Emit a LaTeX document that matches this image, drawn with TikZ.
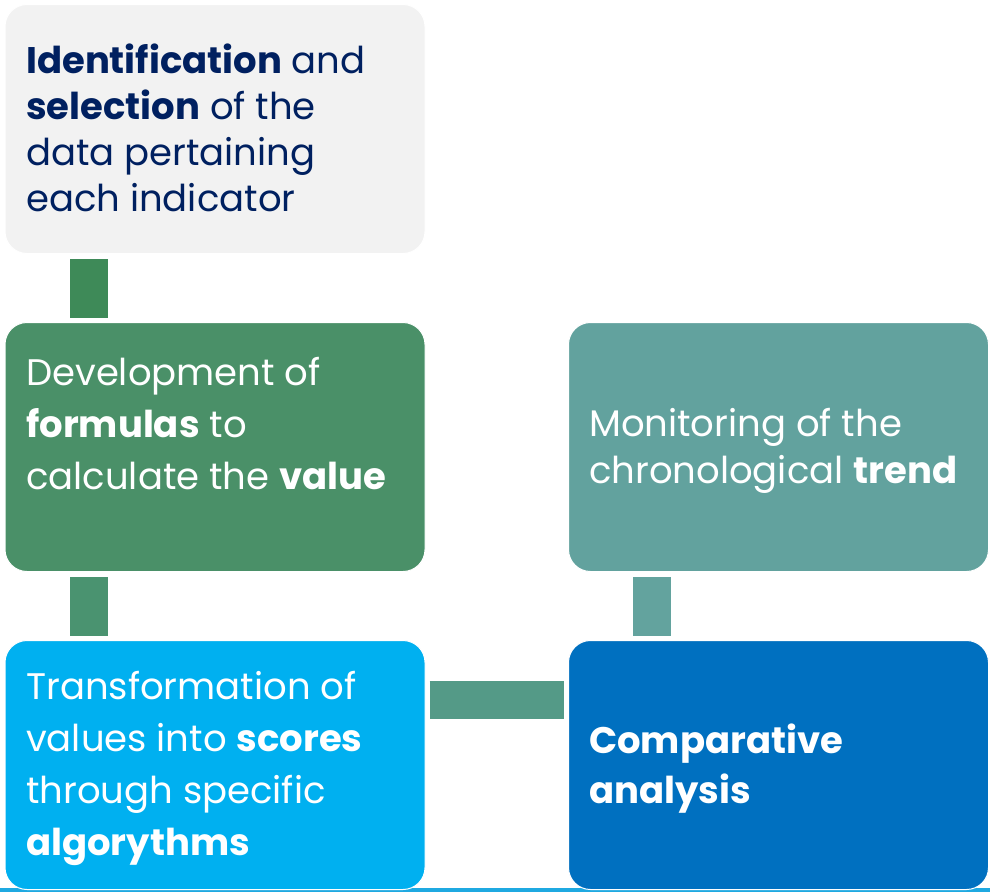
\documentclass[tikz,border=0pt]{standalone}
\usepackage{fontspec}
\setmainfont{Poppins}

\definecolor{navy}{HTML}{002060}
\definecolor{paper}{HTML}{F2F2F2}
\definecolor{leaf}{HTML}{4A9068}
\definecolor{sea}{HTML}{62A29E}
\definecolor{sky}{HTML}{00B0F0}
\definecolor{ocean}{HTML}{0070C0}
\definecolor{stripe}{HTML}{1FA9E1}

\begin{document}
\begin{tikzpicture}[x=1pt,y=-1pt,
  box/.style={rounded corners=22pt, draw=white, line width=1pt,
    minimum width=420pt, minimum height=249pt, inner sep=0pt},
  txt/.style={anchor=west, align=left, inner sep=0pt, text=white,
    font=\fontsize{37}{52}\selectfont},
  link/.style={line width=38pt}]
\useasboundingbox (0,0) rectangle (990,892);
\fill[stripe] (0,888) rectangle (990,892);

% the five steps
\node[box, fill=paper] (idn) at (215,129) {};
\node[box, fill=leaf]  (dev) at (215,447) {};
\node[box, fill=sky]   (sco) at (215,765) {};
\node[box, fill=ocean] (cmp) at (778.5,765) {};
\node[box, fill=sea]   (mon) at (778.5,447) {};

\node[txt, text=navy, font=\fontsize{37}{46}\selectfont] (idnt) at (26,128)
  {\textbf{Identification} and\\\textbf{selection} of the\\data pertaining\\each indicator};
\node[txt] (devt) at (26,424)
  {Development of\\\textbf{formulas} to\\calculate the \textbf{value}};
\node[txt] (scot) at (26,768)
  {Transformation of\\values into \textbf{scores}\\through specific\\\textbf{algorythms}};
\node[txt, font=\bfseries\fontsize{37}{50}\selectfont] (cmpt) at (589,769)
  {Comparative\\analysis};
\node[txt, font=\fontsize{37}{47}\selectfont] (mont) at (589,451)
  {Monitoring of the\\chronological \textbf{trend}};

% joints between the steps
\draw[link, color={rgb,255:red,62;green,138;blue,88}, shorten <=5pt, shorten >=4pt]
  ([xshift=84pt]idn.south west) -- ([xshift=84pt]dev.north west);
\draw[link, color={rgb,255:red,74;green,147;blue,112}, shorten <=5pt, shorten >=4pt]
  ([xshift=84pt]dev.south west) -- ([xshift=84pt]sco.north west);
\draw[link, color={rgb,255:red,84;green,154;blue,135}, shorten <=4pt, shorten >=4pt]
  ([yshift=-60pt]sco.north east) -- ([yshift=-60pt]cmp.north west);
\draw[link, color={rgb,255:red,99;green,163;blue,158}, shorten <=5pt, shorten >=4pt]
  ([xshift=84pt]mon.south west) -- ([xshift=84pt]cmp.north west);
\end{tikzpicture}
\end{document}
